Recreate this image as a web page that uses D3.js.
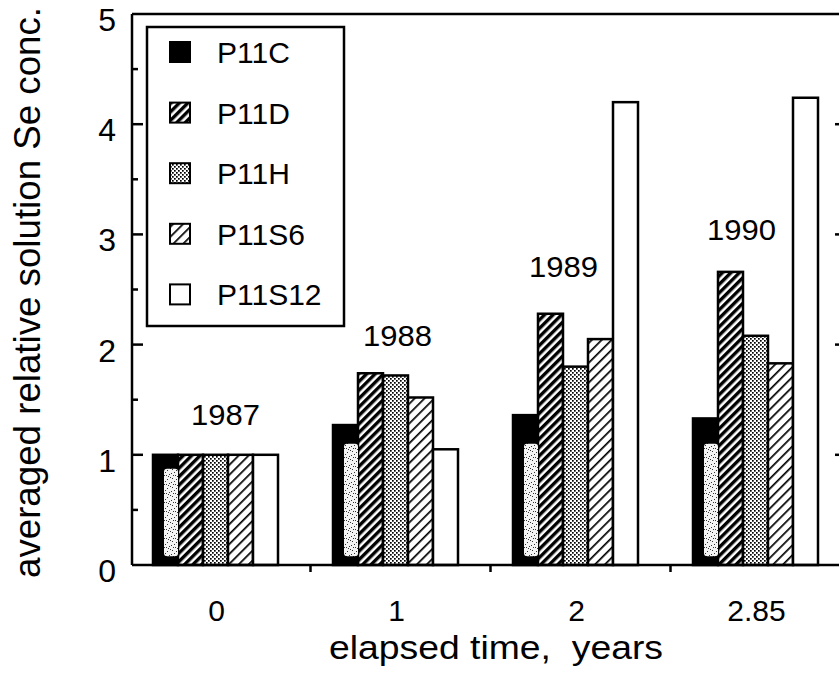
<!DOCTYPE html>
<html>
<head>
<meta charset="utf-8">
<script src="https://cdn.jsdelivr.net/npm/d3@7"></script>
<style>
  html, body { margin: 0; padding: 0; background: #fff; }
  svg { display: block; }
  text { font-family: "Liberation Sans", Arial, Helvetica, sans-serif; fill: #000; }
</style>
</head>
<body>
<svg id="chart" width="839" height="679"></svg>
<script>
// ---- data ----
const categories = ["0", "1", "2", "2.85"];
const years = ["1987", "1988", "1989", "1990"];
const seriesNames = ["P11C", "P11D", "P11H", "P11S6", "P11S12"];
const P11C   = [1.00, 1.27, 1.36, 1.33];
const P11D   = [1.00, 1.74, 2.28, 2.66];
const P11H   = [1.00, 1.72, 1.80, 2.08];
const P11S6  = [1.00, 1.52, 2.05, 1.83];
const P11S12 = [1.00, 1.05, 4.20, 4.24];
const yTickValues = [0, 1, 2, 3, 4, 5];
const yMinorTicks = [0.5, 1.5, 2.5, 3.5, 4.5];
const yearLabelLevel = [1.27, 1.99, 2.61, 2.95];
const yearLabelShift = [10, 2, -12, -14];
const xTitle = "elapsed time,  years";
const yTitle = "averaged relative solution Se conc.";

const seriesValues = [P11C, P11D, P11H, P11S6, P11S12];
const fills = ["#000", "url(#hatchD)", "url(#stippleH)", "url(#hatchS6)", "#fff"];

const svg = d3.select("#chart");
const defs = svg.append("defs");

// patterns
const pD = defs.append("pattern").attr("id", "hatchD").attr("patternUnits", "userSpaceOnUse")
  .attr("width", 6).attr("height", 6).attr("patternTransform", "rotate(45)");
pD.append("rect").attr("width", 6).attr("height", 6).attr("fill", "#fff");
pD.append("rect").attr("width", 3.4).attr("height", 6).attr("fill", "#000");

const pS = defs.append("pattern").attr("id", "hatchS6").attr("patternUnits", "userSpaceOnUse")
  .attr("width", 7).attr("height", 7).attr("patternTransform", "rotate(45)");
pS.append("rect").attr("width", 7).attr("height", 7).attr("fill", "#fff");
pS.append("rect").attr("width", 1.7).attr("height", 7).attr("fill", "#000");

const pH = defs.append("pattern").attr("id", "stippleH").attr("patternUnits", "userSpaceOnUse")
  .attr("width", 4).attr("height", 4);
pH.append("rect").attr("width", 4).attr("height", 4).attr("fill", "#fff");
pH.append("rect").attr("x", 0).attr("y", 0).attr("width", 1.7).attr("height", 1.7).attr("fill", "#000");
pH.append("rect").attr("x", 2).attr("y", 2).attr("width", 1.7).attr("height", 1.7).attr("fill", "#000");

const pK = defs.append("pattern").attr("id", "speckle").attr("patternUnits", "userSpaceOnUse")
  .attr("width", 9).attr("height", 9);
pK.append("rect").attr("width", 9).attr("height", 9).attr("fill", "#f4f4f4");
[[1,1],[5,2],[3,4],[7,6],[2,7],[8,0],[6,8],[0,5],[4,7]].forEach(([a,b]) =>
  pK.append("rect").attr("x", a).attr("y", b).attr("width", 1).attr("height", 1).attr("fill", "#333"));

// scales
const x = d3.scaleBand().domain(categories).range([125.5, 845.5]).padding(0);
const inner = d3.scaleBand().domain(seriesNames).range([0, 125]).padding(0);
const groupOffset = (x.bandwidth() - 125) / 2;
const y = d3.scaleLinear().domain([0, 5]).range([565, 14]);

const axisLeftX = 132;
const plotRight = 839;

// bars
const barData = [];
categories.forEach((c, i) => {
  seriesNames.forEach((s, j) => {
    barData.push({ cat: c, s, j, v: seriesValues[j][i] });
  });
});

svg.append("g").selectAll("rect").data(barData).join("rect")
  .attr("x", d => x(d.cat) + groupOffset + inner(d.s))
  .attr("y", d => y(d.v))
  .attr("width", inner.bandwidth())
  .attr("height", d => y(0) - y(d.v))
  .attr("fill", d => fills[d.j])
  .attr("stroke", "#000")
  .attr("stroke-width", 2.5);

// scan speckle inside the black bars (as in the scanned original)
const speckTop = d => Math.max(y(d.v) + 14, y(1.1));
svg.append("g").selectAll("rect").data(barData.filter(d => d.j === 0)).join("rect")
  .attr("x", d => x(d.cat) + groupOffset + inner(d.s) + 11)
  .attr("y", speckTop)
  .attr("width", inner.bandwidth() - 11)
  .attr("height", d => y(0.08) - speckTop(d))
  .attr("rx", 3)
  .attr("fill", "url(#speckle)");

// frame: left axis, bottom axis, top border
const frame = svg.append("g").attr("stroke", "#000").attr("stroke-width", 2.5).attr("fill", "none");
frame.append("line").attr("x1", axisLeftX).attr("x2", axisLeftX).attr("y1", y(5)).attr("y2", y(0));
frame.append("line").attr("x1", axisLeftX).attr("x2", plotRight).attr("y1", y(0)).attr("y2", y(0));
frame.append("line").attr("x1", axisLeftX).attr("x2", plotRight).attr("y1", y(5)).attr("y2", y(5));

// y ticks (inward)
frame.selectAll(".maj").data(yTickValues.slice(1, 5)).join("line").attr("class", "maj")
  .attr("x1", axisLeftX).attr("x2", axisLeftX + 11)
  .attr("y1", d => y(d)).attr("y2", d => y(d));
frame.selectAll(".min").data(yMinorTicks).join("line").attr("class", "min")
  .attr("x1", axisLeftX).attr("x2", axisLeftX + 6)
  .attr("y1", d => y(d)).attr("y2", d => y(d));
// right axis tick stubs at the cut edge
frame.selectAll(".rt").data(yTickValues.slice(1, 5)).join("line").attr("class", "rt")
  .attr("x1", plotRight - 4).attr("x2", plotRight)
  .attr("y1", d => y(d)).attr("y2", d => y(d));

// x ticks (outward, between groups)
frame.selectAll(".xt").data(categories.slice(0, 3)).join("line").attr("class", "xt")
  .attr("x1", d => x(d) + x.bandwidth() + 5).attr("x2", d => x(d) + x.bandwidth() + 5)
  .attr("y1", y(0)).attr("y2", y(0) + 7);

// y tick labels
svg.append("g").selectAll("text").data(yTickValues).join("text")
  .attr("x", 116).attr("y", d => y(d) + 17)
  .attr("text-anchor", "end").attr("font-size", 32)
  .text(d => d);

// x tick labels
svg.append("g").selectAll("text").data(categories).join("text")
  .attr("x", d => x(d) + x.bandwidth() / 2 + 1).attr("y", 621)
  .attr("text-anchor", "middle").attr("font-size", 30)
  .text(d => d);

// year labels
svg.append("g").selectAll("text").data(years).join("text")
  .attr("x", (d, i) => x(categories[i]) + x.bandwidth() / 2 + yearLabelShift[i])
  .attr("y", (d, i) => y(yearLabelLevel[i]))
  .attr("text-anchor", "middle").attr("font-size", 30)
  .attr("textLength", 69).attr("lengthAdjust", "spacingAndGlyphs")
  .text(d => d);

// axis titles
svg.append("text").attr("x", 496).attr("y", 659)
  .attr("text-anchor", "middle").attr("font-size", 33)
  .attr("textLength", 334).attr("lengthAdjust", "spacingAndGlyphs")
  .style("white-space", "pre")
  .text(xTitle);
svg.append("text").attr("transform", "translate(40,292.5) rotate(-90)")
  .attr("text-anchor", "middle").attr("font-size", 36)
  .attr("textLength", 571).attr("lengthAdjust", "spacingAndGlyphs")
  .text(yTitle);

// legend
const lg = svg.append("g");
lg.append("rect").attr("x", 147).attr("y", 27).attr("width", 197).attr("height", 299)
  .attr("fill", "#fff").attr("stroke", "#000").attr("stroke-width", 2.5);
const itemY = i => 52 + i * 60.6;
lg.selectAll(".sw").data(seriesNames).join("rect").attr("class", "sw")
  .attr("x", 170).attr("y", (d, i) => itemY(i) - 10)
  .attr("width", 20).attr("height", 20)
  .attr("fill", (d, i) => fills[i]).attr("stroke", "#000").attr("stroke-width", 2);
lg.selectAll(".lt").data(seriesNames).join("text").attr("class", "lt")
  .attr("x", 217).attr("y", (d, i) => itemY(i) + 11)
  .attr("font-size", 30)
  .text(d => d);
</script>
</body>
</html>
